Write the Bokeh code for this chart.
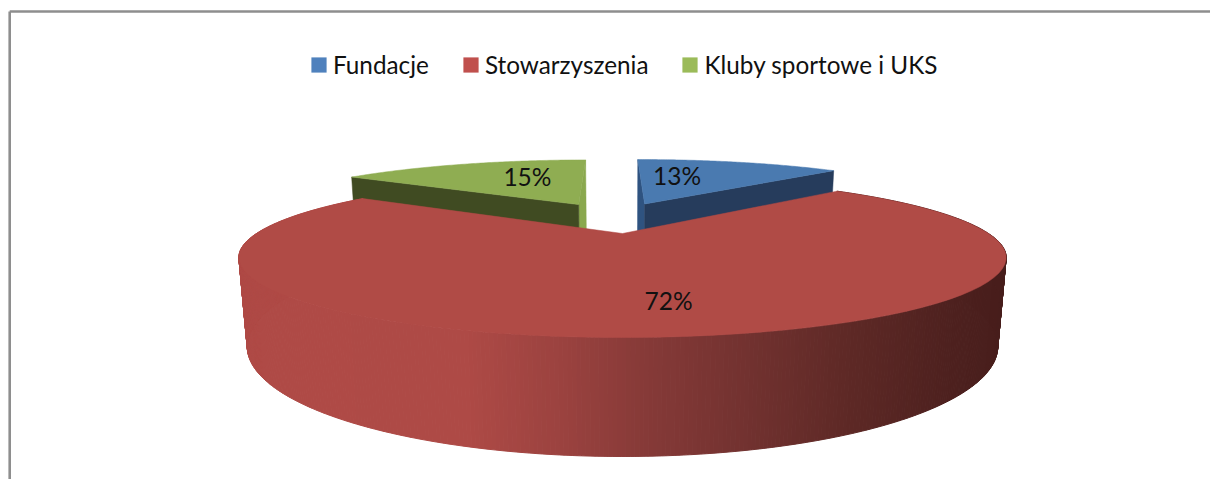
import numpy as np
from bokeh.plotting import figure
from bokeh.models import Range1d, Legend, LegendItem, ColumnDataSource
from bokeh.core.properties import value
from bokeh.embed import file_html
from bokeh.resources import INLINE

# --- data ---
categories = ["Fundacje", "Stowarzyszenia", "Kluby sportowe i UKS"]
shares = [12.7, 71.9, 15.4]
legend_colors = ["#4f81bd", "#c0504d", "#9bbb59"]

# --- style ---
top_colors = ["#4a7ab0", "#b04b46", "#8fad52"]
front_colors = ["#263c5c", None, "#404b22"]
inner_colors = ["#2f5380", None, "#8aa84e"]
FONT = "Lato"
START = -0.5       # first slice angle, degrees clockwise from the back
EXPLODE = 0.24
K = 0.3            # perspective strength
CX = 622.0
TOP = dict(A=366.0, B=72.8, Y=233.0)
BOT = dict(A=358.0, B=100.1, Y=313.0)
SAT_DROP = 30.0    # extra depth of the two small slices, hidden behind the big one
# radial position, angular shift of the value labels inside each slice
label_r = [0.61, 0.73, 0.61]
label_shift = [-10.3, -2.4, 8.7]


def project(u, v, plane):
    w = 1 + K * np.asarray(v)
    return CX + plane["A"] * np.asarray(u) / w, plane["Y"] - plane["B"] * np.asarray(v) / w


def direction(deg):
    r = np.radians(deg)
    return np.sin(r), np.cos(r)


edges = START + np.concatenate([[0], np.cumsum(shares)]) * 360.0 / sum(shares)
mids = (edges[:-1] + edges[1:]) / 2
ref_u, ref_v = direction(mids[1])
offs = [(EXPLODE * (direction(m)[0] - ref_u), EXPLODE * (direction(m)[1] - ref_v)) for m in mids]

W, H = 1210, 479
p = figure(width=W, height=H, output_backend="svg", toolbar_location=None,
           x_range=Range1d(0, W), y_range=Range1d(H, 0),
           x_axis_type=None, y_axis_type=None, min_border=0,
           outline_line_color=None, background_fill_color="white")
p.grid.visible = False

# frame lines of the chart area
p.segment(x0=[9.2, 9.2], y0=[11, 11], x1=[W, 9.2], y1=[11, H],
          line_color="#8e8e8e", line_width=2.6)


def radial_face(i, deg, color):
    du, dv = direction(deg)
    u = np.array([0, du]) + offs[i][0]
    v = np.array([0, dv]) + offs[i][1]
    xt, yt = project(u, v, TOP)
    xb, yb = project(u, v, BOT)
    p.patch(list(xt) + list(xb[::-1]), list(yt) + list(yb[::-1] + SAT_DROP),
            fill_color=color, line_color=color, line_width=0.5)


def top_face(i):
    th = np.linspace(edges[i], edges[i + 1], 90)
    du, dv = direction(th)
    u = np.concatenate([[0], du]) + offs[i][0]
    v = np.concatenate([[0], dv]) + offs[i][1]
    x, y = project(u, v, TOP)
    p.patch(x, y, fill_color=top_colors[i], line_color=top_colors[i], line_width=0.5)


# small slices, drawn behind the big one
radial_face(0, edges[0], inner_colors[0])
radial_face(0, edges[1], front_colors[0])
top_face(0)
radial_face(2, edges[3], inner_colors[2])
radial_face(2, edges[2], front_colors[2])
top_face(2)

# rim of the big slice
stops_x = [240, 470, 560, 650, 750, 850, 950, 1006]
stops_r = [176, 174, 156, 134, 114, 94, 78, 72]
stops_g = [75, 74, 67, 58, 50, 41, 33, 30]
stops_b = [70, 70, 64, 56, 48, 38, 31, 28]
th = np.linspace(edges[1], edges[2], 521)
du, dv = direction(th)
xt, yt = project(du + offs[1][0], dv + offs[1][1], TOP)
xb, yb = project(du + offs[1][0], dv + offs[1][1], BOT)
rim = dict(xs=[], ys=[], color=[])
for j in range(len(th) - 1):
    rim["xs"].append([xt[j], xt[j + 1], xb[j + 1], xb[j]])
    rim["ys"].append([yt[j], yt[j + 1], yb[j + 1], yb[j]])
    xm = (xt[j] + xb[j]) / 2
    rim["color"].append("#%02x%02x%02x" % (int(np.interp(xm, stops_x, stops_r)),
                                           int(np.interp(xm, stops_x, stops_g)),
                                           int(np.interp(xm, stops_x, stops_b))))
p.patches("xs", "ys", source=ColumnDataSource(rim), fill_color="color", line_color="color", line_width=1)
top_face(1)

# value labels
lx, ly, lt = [], [], []
for i, s in enumerate(shares):
    du, dv = direction(mids[i] + label_shift[i])
    x, y = project(offs[i][0] + label_r[i] * du, offs[i][1] + label_r[i] * dv, TOP)
    lx.append(float(x)); ly.append(float(y)); lt.append(f"{round(s)}%")
p.text(lx, ly, text=lt, text_font=value(FONT), text_font_size="24.5px", text_color="#111111",
       text_align="center", text_baseline="middle")

# legend
items = []
for name, col in zip(categories, legend_colors):
    r = p.quad(left=[np.nan], right=[np.nan], top=[np.nan], bottom=[np.nan],
               fill_color=col, line_color=None)
    items.append(LegendItem(label=name, renderers=[r]))
legend = Legend(items=items, orientation="horizontal", location=(309, H - 79),
                glyph_width=19, glyph_height=19, label_standoff=5, spacing=32,
                margin=0, padding=0, border_line_color=None, background_fill_alpha=0,
                label_text_font=FONT, label_text_font_size="24.3px", label_text_color="#111111")
p.add_layout(legend, "center")

open("out.html", "w").write(file_html(p, INLINE))
